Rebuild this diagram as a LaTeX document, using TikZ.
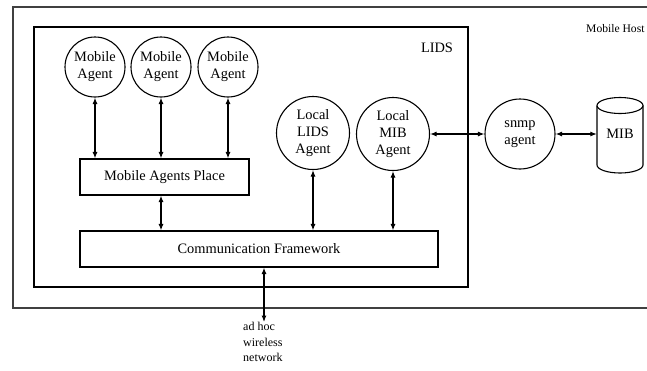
\documentclass[tikz,border=0pt]{standalone}
\usepackage{fontspec}
\setmainfont{Liberation Serif}
\usetikzlibrary{arrows.meta}
\begin{document}
\begin{tikzpicture}[x=1pt,y=-1pt,
  lbl/.style={font=\fontsize{14.4}{17}\selectfont},
  small/.style={font=\fontsize{12}{15.5}\selectfont},
  agent/.style={draw,circle,line width=1.1pt,inner sep=0pt,align=center,lbl},
  box/.style={draw,rectangle,line width=1.1pt,inner sep=0pt,lbl},
  conn/.style={line width=1.1pt,{Latex[length=6.5pt,width=5pt]}-{Latex[length=6.5pt,width=5pt]}}]
\useasboundingbox (0,0) rectangle (647,370);
% outer mobile host frame (open to the right)
\draw[line width=1.4pt,black!75] (647,7) -- (13,7) -- (13,308) -- (647,308);
\node[font=\fontsize{11.6}{14}\selectfont,anchor=west,inner sep=0pt] (host) at (586,29) {Mobile Host};
% LIDS box
\draw[line width=1.1pt] (34,27) rectangle (468,287);
\node[lbl] (lids) at (437,48) {LIDS};
% agents
\node[agent,minimum size=60pt] (ma1) at (95,67) {Mobile\\Agent};
\node[agent,minimum size=60pt] (ma2) at (161,67) {Mobile\\Agent};
\node[agent,minimum size=60pt] (ma3) at (228,67) {Mobile\\Agent};
\node[agent,minimum size=73pt] (lla) at (313,133) {Local\\LIDS\\Agent};
\node[agent,minimum size=73pt] (lma) at (393,134) {Local\\MIB\\Agent};
\node[agent,minimum size=70pt] (snmp) at (520,134) {snmp\\agent};
% boxes
\node[box,minimum width=169pt,minimum height=36pt] (place) at (164.5,177) {Mobile Agents Place};
\node[box,minimum width=358pt,minimum height=36pt] (comm) at (259,249) {Communication Framework};
% MIB cylinder
\node[lbl,minimum width=46pt,minimum height=60pt,inner sep=0pt] (mib) at (620,134) {MIB};
\draw[line width=1.1pt] (597,105.5) -- (597,165) arc[start angle=180,end angle=360,x radius=23pt,y radius=8pt] -- (643,105.5);
\draw[line width=1.1pt] (620,105.5) ellipse[x radius=23pt,y radius=8pt];
% ad hoc text
\node[small,align=left,anchor=north west,inner sep=0pt] (adhoc) at (243,322) {ad hoc\\wireless\\network};
% connectors
\draw[conn] (ma1.south) -- (ma1.south |- place.north);
\draw[conn] (ma2.south) -- (ma2.south |- place.north);
\draw[conn] (ma3.south) -- (ma3.south |- place.north);
\draw[conn] (place.south -| ma2.south) -- (ma2.south |- comm.north);
\draw[conn] (lla.south) -- (lla.south |- comm.north);
\draw[conn] (lma.south) -- (lma.south |- comm.north);
\draw[conn] ([xshift=5pt]comm.south) coordinate (cs) -- (cs |- adhoc.north);
\draw[conn] (lma.east) -- (snmp.west);
\draw[conn] (snmp.east) -- (mib.west);
\end{tikzpicture}
\end{document}
